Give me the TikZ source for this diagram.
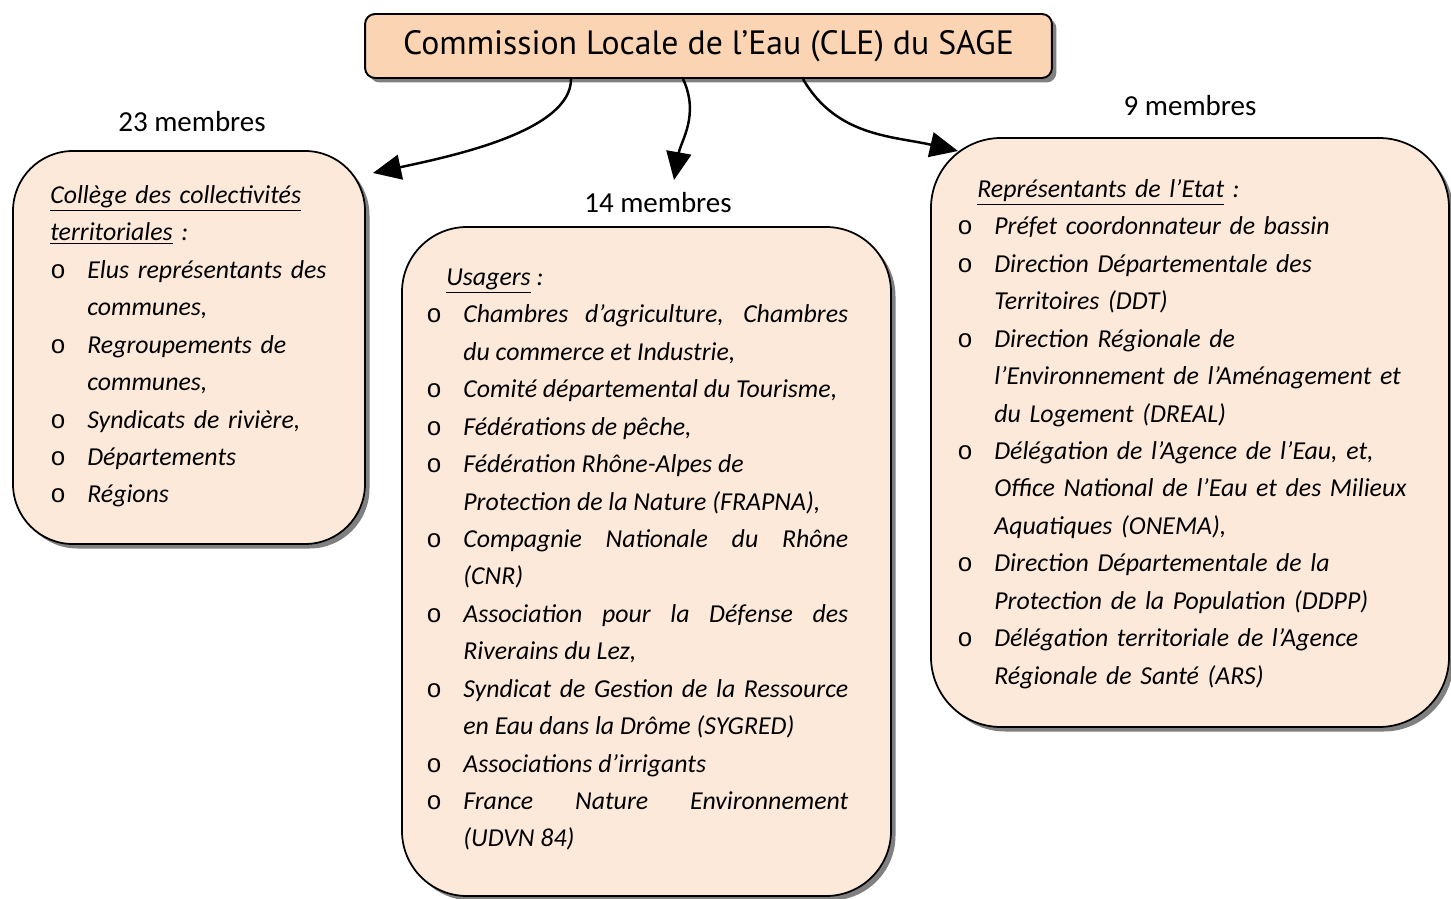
\documentclass[tikz,border=0pt]{standalone}
\usepackage{fontspec}
\setmainfont{Carlito}
\newfontfamily\titrefont{PT Sans}
\newfontfamily\pucefont{Liberation Mono}
\usetikzlibrary{arrows.meta, positioning, fit, shadows}

\definecolor{peche}{HTML}{FBD4B4}
\definecolor{pechepale}{HTML}{FDE9D9}

\newcommand{\puceo}{{\pucefont\upshape o}}
\newcommand{\elt}[1]{\par\noindent\hangindent=0.74cm\hangafter=1\makebox[0.74cm][l]{\puceo}#1}
\newcommand{\listefont}{\fontsize{14.7pt}{21.3pt}\selectfont\itshape}

\tikzset{
  ombre/.style={drop shadow={shadow xshift=0.09cm, shadow yshift=-0.09cm, fill=black!50, opacity=1}},
  titre/.style={draw, line width=1.1pt, fill=peche, rounded corners=0.2cm, ombre,
    minimum width=13.74cm, minimum height=1.28cm, inner sep=0pt,
    font=\titrefont\fontsize{19.2pt}{21pt}\selectfont},
  boite/.style={draw, line width=1pt, fill=pechepale, inner sep=0pt, ombre},
  liste/.style={anchor=north west, inner sep=0pt, font=\listefont},
  membres/.style={font=\fontsize{16.5pt}{20pt}\selectfont},
  fleche/.style={line width=1.4pt, -{Triangle[length=0.56cm, width=0.5cm]}}
}

\begin{document}
\begin{tikzpicture}[x=0.02cm, y=-0.02cm]
  \useasboundingbox (0,0) rectangle (1451,899);

  % titre
  \node[titre] (cle) at (708.5,46) {Commission Locale de l’Eau (CLE) du SAGE};

  % les trois colleges
  \coordinate (collA) at (13,151);
  \coordinate (collB) at (365,544);
  \node[boite, rounded corners=1.2cm, fit=(collA)(collB)] (coll) {};
  \coordinate (usagA) at (402,227);
  \coordinate (usagB) at (891,896);
  \node[boite, rounded corners=1.3cm, fit=(usagA)(usagB)] (usag) {};
  \coordinate (etatA) at (931,138);
  \coordinate (etatB) at (1449,727);
  \node[boite, rounded corners=1.4cm, fit=(etatA)(etatB)] (etat) {};

  \node[membres] (nbColl) at (192,122) {23 membres};
  \node[membres] (nbUsag) at (658,203) {14 membres};
  \node[membres] (nbEtat) at (1190,106) {9 membres};

  \node[liste, text width=6.3cm, align=left] (collT) at (50,177) {%
    \strut\underline{Collège des collectivités}\newline\underline{territoriales} :
    \elt{Elus représentants des\newline communes,}
    \elt{Regroupements de\newline communes,}
    \elt{Syndicats de rivière,}
    \elt{Départements}
    \elt{Régions}\par};

  \node[liste, text width=8.44cm, align=justify] (usagT) at (426,259) {%
    \strut\hspace*{0.4cm}\underline{Usagers} :
    \elt{Chambres d’agriculture, Chambres\linebreak du commerce et Industrie,}
    \elt{Comité départemental du Tourisme,}
    \elt{Fédérations de pêche,}
    \elt{Fédération Rhône-Alpes de\newline Protection de la Nature (FRAPNA),}
    \elt{Compagnie Nationale du Rhône\linebreak (CNR)}
    \elt{Association pour la Défense des\linebreak Riverains du Lez,}
    \elt{Syndicat de Gestion de la Ressource\linebreak en Eau dans la Drôme (SYGRED)}
    \elt{Associations d’irrigants}
    \elt{France Nature Environnement\linebreak (UDVN 84)}\par};

  \node[liste, text width=9.4cm, align=left] (etatT) at (957,171) {%
    \strut\hspace*{0.4cm}\underline{Représentants de l’Etat} :
    \elt{Préfet coordonnateur de bassin}
    \elt{Direction Départementale des\newline Territoires (DDT)}
    \elt{Direction Régionale de\newline l’Environnement de l’Aménagement et\newline du Logement (DREAL)}
    \elt{Délégation de l’Agence de l’Eau, et,\newline Office National de l’Eau et des Milieux\newline Aquatiques (ONEMA),}
    \elt{Direction Départementale de la\newline Protection de la Population (DDPP)}
    \elt{Délégation territoriale de l’Agence\newline Régionale de Santé (ARS)}\par};

  % fleches
  \coordinate (versColl) at (373,173);
  \coordinate (versUsag) at (674,180);
  \coordinate (versEtat) at (958,151);
  \draw[fleche] ([xshift=-2.75cm]cle.south) to[out=-90, in=12, out looseness=0.6] (versColl);
  \draw[fleche] ([xshift=-0.51cm]cle.south) to[out=-65, in=80] (versUsag);
  \draw[fleche] ([xshift=1.89cm]cle.south) to[out=-60, in=167] (versEtat);
\end{tikzpicture}
\end{document}
